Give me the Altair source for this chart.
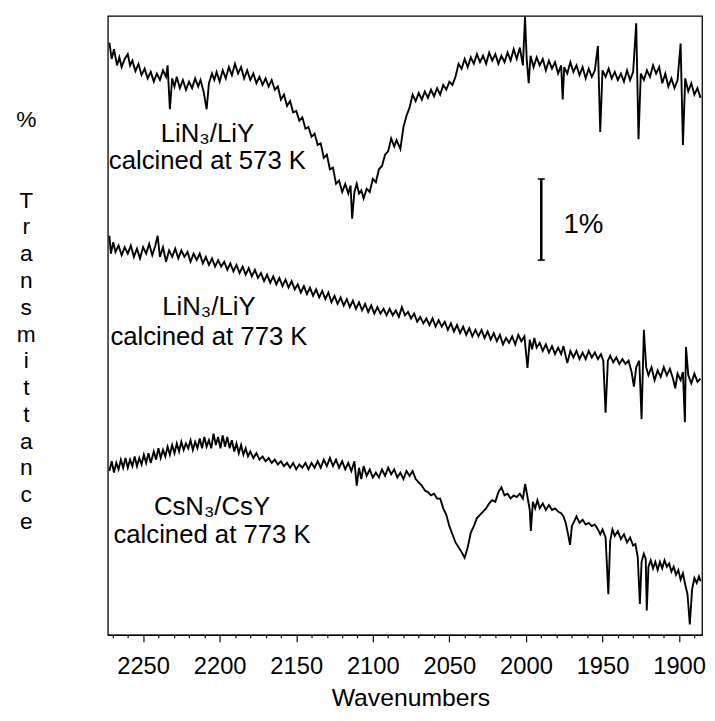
import altair as alt
import pandas as pd

# ---------------- data ----------------
# trace 1: LiN3/LiY calcined at 573 K  (wavenumber, offset %T)
t1_wn = [2272, 2270.5, 2269, 2267, 2265.5, 2264, 2262, 2260, 2258.5, 2257, 2255, 2253, 2251, 2249, 2247, 2245,
         2243, 2241, 2239, 2237, 2235, 2234, 2232.5, 2231, 2229.5, 2228, 2226, 2224, 2222, 2220, 2218, 2216,
         2214, 2212.5, 2210.5, 2208.5, 2207, 2205, 2203.5, 2202, 2200, 2198, 2196, 2194, 2192, 2190, 2188,
         2186, 2184, 2182, 2180, 2178, 2176, 2174, 2172, 2170, 2168, 2166, 2164, 2162, 2160, 2158, 2156,
         2154, 2152, 2150, 2148, 2146, 2144, 2142, 2140, 2138, 2136, 2134, 2132, 2130, 2128, 2126, 2124,
         2122, 2120, 2118, 2116, 2114.5, 2113.5, 2112, 2110.5, 2109, 2107.5, 2106, 2104, 2102, 2100, 2098,
         2096, 2094, 2092, 2090, 2088, 2086, 2084.5, 2082, 2080, 2078, 2076, 2074, 2072, 2070, 2068, 2066,
         2064, 2062, 2060, 2058, 2056, 2054, 2052, 2050, 2048, 2046, 2044, 2042, 2040, 2038, 2036, 2034,
         2032, 2030, 2028, 2026, 2024, 2022, 2020, 2018, 2016, 2014, 2012, 2010, 2008, 2006, 2004, 2002,
         2000.6, 1999.5, 1998.2, 1997, 1995, 1993, 1991, 1989, 1987, 1985, 1983, 1981, 1979, 1977, 1976,
         1975, 1973, 1971, 1969, 1967, 1965, 1963, 1961, 1959, 1957, 1955, 1953, 1951.5, 1950, 1948, 1946,
         1944, 1942, 1940, 1938, 1936, 1934, 1932, 1930, 1928, 1926.5, 1925, 1923, 1921, 1919, 1917, 1915,
         1913, 1911, 1909, 1907, 1905, 1903, 1901, 1899, 1897.5, 1896, 1894, 1892, 1890, 1888, 1886]
t1_val = [7.30, 7.10, 7.22, 7.02, 7.12, 7.00, 7.10, 7.16, 7.02, 7.08, 6.95, 7.04, 6.90, 6.98, 6.86, 6.94,
          6.82, 6.92, 6.84, 6.96, 6.88, 7.02, 6.48, 6.86, 6.76, 6.88, 6.74, 6.84, 6.72, 6.82, 6.74, 6.86,
          6.76, 6.84, 6.70, 6.48, 6.80, 6.92, 6.84, 6.94, 6.82, 6.96, 6.86, 7.00, 6.90, 7.04, 6.92,
          7.00, 6.86, 6.96, 6.84, 6.92, 6.80, 6.88, 6.78, 6.86, 6.76, 6.84, 6.72, 6.76, 6.60, 6.66, 6.52,
          6.58, 6.44, 6.46, 6.34, 6.38, 6.24, 6.26, 6.14, 6.18, 6.04, 6.06, 5.88, 5.92, 5.74, 5.76, 5.56,
          5.60, 5.46, 5.56, 5.44, 5.54, 5.13, 5.46, 5.56, 5.44, 5.48, 5.38, 5.50, 5.46, 5.62, 5.58,
          5.74, 5.78, 5.92, 5.96, 6.12, 6.02, 6.10, 5.99, 6.26, 6.40, 6.50, 6.66, 6.58, 6.68, 6.60, 6.70,
          6.62, 6.72, 6.64, 6.74, 6.66, 6.78, 6.72, 6.82, 6.78, 6.88, 7.04, 6.98, 7.10, 7.00, 7.12, 7.04,
          7.16, 7.06, 7.14, 7.04, 7.18, 7.08, 7.16, 7.04, 7.14, 7.06, 7.18, 7.08, 7.22, 7.10, 7.24, 7.02,
          7.62, 7.10, 6.80, 7.14, 7.00, 7.12, 7.02, 7.10, 6.96, 7.08, 6.98, 7.06, 6.92, 7.02, 6.60,
          7.00, 6.92, 7.06, 6.94, 7.02, 6.90, 7.00, 6.86, 6.98, 6.88, 6.96, 7.26, 6.20, 6.96, 6.88, 6.98,
          6.86, 6.94, 6.84, 6.92, 6.82, 6.96, 6.84, 6.94, 7.54, 6.11, 6.92, 6.84, 6.96, 6.88, 7.02, 6.92,
          7.00, 6.80, 6.92, 6.76, 6.86, 6.74, 6.84, 7.29, 6.04, 6.86, 6.70, 6.80, 6.66, 6.74, 6.62]

# trace 2: LiN3/LiY calcined at 773 K
t2_wn = [2272, 2271, 2269.5, 2268, 2266, 2264, 2262, 2260, 2258, 2256, 2254, 2252, 2250, 2248, 2246, 2244,
         2242, 2240.5, 2239, 2237, 2235, 2233, 2231, 2229, 2227, 2225, 2223, 2221, 2219, 2217, 2215, 2213,
         2211, 2209, 2207, 2205, 2203, 2201, 2199, 2197, 2195, 2193, 2191, 2189, 2187, 2185, 2183, 2181,
         2179, 2177, 2175, 2173, 2171, 2169, 2167, 2165, 2163, 2161, 2159, 2157, 2155, 2153, 2151, 2149,
         2147, 2145, 2143, 2141, 2139, 2137, 2135, 2133, 2131, 2129, 2127, 2125, 2123, 2121, 2119, 2117,
         2115, 2113, 2111, 2109, 2107, 2105, 2103, 2101, 2099, 2097, 2095, 2093, 2091, 2089, 2087, 2085,
         2083, 2081, 2079, 2077, 2075, 2073, 2071, 2069, 2067, 2065, 2063, 2061, 2059, 2057, 2055, 2053,
         2051, 2049, 2047, 2045, 2043, 2041, 2039, 2037, 2035, 2033, 2031, 2029, 2027, 2025, 2023, 2021,
         2019, 2017, 2015, 2013, 2011, 2009, 2007, 2005, 2003, 2001, 1999, 1997.5, 1996, 1994.5, 1993,
         1991, 1989, 1987, 1985, 1983, 1981, 1979, 1977, 1975.5, 1973, 1971, 1969, 1967, 1965, 1963, 1961,
         1959, 1957, 1955, 1953, 1951, 1949.5, 1948, 1946.5, 1945, 1943, 1941, 1939, 1937, 1935, 1933,
         1931, 1929.5, 1928, 1926, 1924.5, 1923, 1921.5, 1920, 1918, 1916, 1914, 1912, 1910, 1908, 1906,
         1904, 1902.5, 1901, 1899, 1897.5, 1896.2, 1895.5, 1894, 1892, 1890, 1888, 1886]
t2_val = [4.92, 4.70, 4.84, 4.72, 4.80, 4.68, 4.78, 4.70, 4.80, 4.66, 4.76, 4.64, 4.78, 4.70, 4.82, 4.68,
          4.80, 4.92, 4.66, 4.78, 4.60, 4.74, 4.66, 4.76, 4.64, 4.74, 4.66, 4.72, 4.60, 4.70, 4.62, 4.70,
          4.58, 4.66, 4.56, 4.64, 4.54, 4.62, 4.54, 4.60, 4.50, 4.58, 4.48, 4.56, 4.46, 4.54, 4.44, 4.52,
          4.42, 4.50, 4.40, 4.46, 4.36, 4.44, 4.34, 4.42, 4.32, 4.40, 4.30, 4.38, 4.28, 4.36, 4.26, 4.32,
          4.22, 4.30, 4.20, 4.28, 4.18, 4.26, 4.16, 4.24, 4.14, 4.22, 4.10, 4.18, 4.08, 4.16, 4.06, 4.14,
          4.04, 4.12, 4.02, 4.10, 4.00, 4.08, 3.98, 4.06, 3.96, 4.04, 3.96, 4.02, 3.94, 4.02, 3.94, 4.00,
          3.92, 4.04, 3.94, 3.98, 3.90, 3.96, 3.86, 3.92, 3.84, 3.90, 3.82, 3.90, 3.80, 3.88, 3.80, 3.86,
          3.76, 3.84, 3.74, 3.82, 3.72, 3.80, 3.70, 3.78, 3.68, 3.76, 3.68, 3.76, 3.66, 3.74, 3.64, 3.72,
          3.62, 3.70, 3.58, 3.66, 3.60, 3.68, 3.58, 3.70, 3.62, 3.68, 3.29, 3.64, 3.52, 3.66, 3.54,
          3.60, 3.50, 3.58, 3.48, 3.56, 3.46, 3.54, 3.46, 3.56, 3.35, 3.50, 3.42, 3.50, 3.40, 3.48, 3.40,
          3.50, 3.42, 3.48, 3.40, 3.46, 3.38, 2.74, 3.38, 3.44, 3.36, 3.42, 3.34, 3.40, 3.34, 3.38,
          3.24, 3.06, 3.30, 3.38, 2.66, 3.76, 3.30, 3.20, 3.30, 3.14, 3.26, 3.18, 3.30, 3.20, 3.28,
          3.16, 3.04, 3.22, 3.14, 3.24, 2.62, 3.55, 3.20, 3.10, 3.22, 3.12, 3.16]

# trace 3: CsN3/CsY calcined at 773 K
t3_wn = [2272, 2270.5, 2269, 2267.5, 2266, 2264.5, 2263, 2261.5, 2260, 2258.5, 2257, 2255.5, 2254, 2252.5,
         2251, 2249.5, 2248, 2246.5, 2245, 2243, 2241.5, 2240, 2238.5, 2237, 2235.5, 2234, 2232.5, 2231,
         2229.5, 2228, 2226.5, 2225, 2223.5, 2222, 2220.5, 2219, 2217.5, 2216, 2214.5, 2213, 2211.5, 2210,
         2208.5, 2207, 2205.5, 2204, 2202.5, 2201, 2199.5, 2198, 2196.5, 2195, 2193.5, 2192, 2190.5, 2189,
         2187.5, 2186, 2184.5, 2183, 2181.5, 2180, 2178, 2176, 2174, 2172, 2170, 2168, 2166, 2164, 2162,
         2160, 2158, 2156, 2154, 2152, 2150, 2148, 2146, 2144, 2142, 2140, 2138, 2136, 2134, 2132, 2130,
         2128, 2126, 2124, 2122, 2120, 2118, 2116, 2114, 2112, 2110.5, 2109, 2107.5, 2106, 2104, 2102, 2100,
         2098, 2096, 2094, 2092, 2090, 2088, 2086, 2084, 2082, 2080, 2078, 2076, 2074, 2072, 2070, 2068,
         2066, 2064, 2062, 2060, 2058, 2056, 2054, 2052, 2050, 2048, 2046, 2044, 2042, 2040, 2038, 2036,
         2034, 2032, 2030, 2028, 2026, 2024, 2022, 2020, 2018, 2016, 2014, 2012, 2010, 2008, 2006, 2004,
         2002, 2000.5, 1999, 1997.5, 1996.8, 1995.5, 1994, 1992.5, 1991, 1989, 1987, 1985, 1983, 1981, 1979,
         1977, 1975.5, 1974, 1972.5, 1971.2, 1970, 1968.5, 1967, 1965, 1963, 1961, 1959, 1957, 1955, 1953,
         1951.5, 1950, 1948, 1946.2, 1945, 1943.5, 1942, 1940, 1938, 1936, 1934, 1932, 1930, 1928.5, 1927,
         1925.6, 1924.5, 1923, 1921.8, 1921.1, 1920, 1918.5, 1917, 1915.5, 1914, 1912.5, 1911, 1909.5, 1908,
         1906.5, 1905, 1903.5, 1902, 1900.5, 1899, 1897.5, 1896, 1894.5, 1893, 1891.5, 1890, 1888.5, 1887, 1886]
t3_val = [2.02, 2.14, 2.00, 2.12, 2.04, 2.16, 2.06, 2.18, 2.06, 2.16, 2.08, 2.20, 2.08, 2.18,
          2.10, 2.22, 2.12, 2.24, 2.12, 2.26, 2.16, 2.30, 2.18, 2.28, 2.20, 2.32, 2.22, 2.34,
          2.24, 2.36, 2.26, 2.38, 2.28, 2.36, 2.30, 2.40, 2.28, 2.38, 2.30, 2.42, 2.30, 2.44,
          2.32, 2.40, 2.30, 2.48, 2.34, 2.44, 2.30, 2.46, 2.32, 2.44, 2.30, 2.40, 2.26, 2.36,
          2.24, 2.34, 2.22, 2.30, 2.20, 2.26, 2.18, 2.24, 2.16, 2.20, 2.14, 2.18, 2.12, 2.16, 2.10,
          2.14, 2.08, 2.12, 2.06, 2.12, 2.04, 2.10, 2.06, 2.12, 2.04, 2.12, 2.06, 2.14, 2.06, 2.16, 2.08,
          2.18, 2.08, 2.16, 2.06, 2.14, 2.04, 2.12, 2.02, 2.14, 1.84, 2.06, 1.92, 2.08, 1.96, 2.04, 1.94,
          2.00, 1.94, 2.04, 1.96, 2.06, 1.98, 2.04, 1.94, 2.00, 1.92, 2.02, 1.96, 2.02, 1.92, 1.88, 1.84,
          1.78, 1.76, 1.72, 1.74, 1.68, 1.68, 1.56, 1.48, 1.34, 1.24, 1.14, 1.08, 1.02, 0.95, 1.08, 1.26,
          1.34, 1.44, 1.48, 1.52, 1.56, 1.62, 1.66, 1.64, 1.76, 1.82, 1.72, 1.74, 1.68, 1.72, 1.70, 1.74,
          1.68, 1.86, 1.70, 1.54, 1.28, 1.64, 1.56, 1.66, 1.56, 1.62, 1.54, 1.60, 1.54, 1.56, 1.52,
          1.50, 1.46, 1.38, 1.24, 1.11, 1.34, 1.40, 1.46, 1.38, 1.42, 1.36, 1.38, 1.34, 1.36, 1.30,
          1.24, 1.30, 1.20, 0.50, 1.16, 1.30, 1.22, 1.28, 1.18, 1.24, 1.14, 1.20, 1.10, 1.12, 0.96,
          0.38, 0.90, 1.00, 0.94, 0.30, 0.84, 0.92, 0.82, 0.90, 0.80, 0.90, 0.82, 0.92, 0.84,
          0.88, 0.78, 0.84, 0.74, 0.80, 0.68, 0.76, 0.62, 0.50, 0.13, 0.56, 0.70, 0.64, 0.72, 0.66]

trace_names = ["LiN3/LiY 573 K", "LiN3/LiY 773 K", "CsN3/CsY 773 K"]

# sample labels
label_wn = [2208, 2208, 2207, 2207, 2205, 2205]
label_v = [6.07, 5.74, 3.94, 3.57, 1.48, 1.13]
label_text = ["LiN\u2083/LiY", "calcined at 573 K",
              "LiN\u2083/LiY", "calcined at 773 K",
              "CsN\u2083/CsY", "calcined at 773 K"]

# 1 % scale bar
bar_wn = 1990
bar_lo, bar_hi = 4.62, 5.62
bar_cap_half = 2.3
bar_label = "1%"
bar_label_wn = 1975.5
bar_label_v = 5.05

# axes
x_domain = [2273, 1885]
y_domain = [0, 7.63]
x_tick_values = [1890, 1900, 1910, 1920, 1930, 1940, 1950, 1960, 1970, 1980, 1990, 2000, 2010, 2020,
                 2030, 2040, 2050, 2060, 2070, 2080, 2090, 2100, 2110, 2120, 2130, 2140, 2150, 2160,
                 2170, 2180, 2190, 2200, 2210, 2220, 2230, 2240, 2250, 2260, 2270]
BLANK = "\u2800"   # blank glyph keeps an empty line in the stacked title
y_title_letters = ["%", BLANK, BLANK, "T", "r", "a", "n", "s", "m", "i", "t", "t", "a", "n", "c", "e"]
x_title = "Wavenumbers"

# ---------------- build tables ----------------
rows = []
for name, wns, vals in zip(trace_names, [t1_wn, t2_wn, t3_wn], [t1_val, t2_val, t3_val]):
    for i, (w, v) in enumerate(zip(wns, vals)):
        rows.append({"trace": name, "i": i, "wn": w, "v": v})
spectra = pd.DataFrame(rows)

labels = pd.DataFrame({"wn": label_wn, "v": label_v, "text": label_text})
bar_df = pd.DataFrame({"wn": [bar_wn], "v": [bar_lo], "v2": [bar_hi]})
caps_df = pd.DataFrame({"wn": [bar_wn - bar_cap_half] * 2, "wn2": [bar_wn + bar_cap_half] * 2,
                        "v": [bar_lo, bar_hi]})
bar_text_df = pd.DataFrame({"wn": [bar_label_wn], "v": [bar_label_v], "text": [bar_label]})

FONT = "Liberation Sans"

x_scale = alt.Scale(domain=x_domain, nice=False, zero=False)
y_scale = alt.Scale(domain=y_domain, nice=False, zero=False)

x_axis = alt.Axis(
    values=x_tick_values, format="d",
    labelExpr="datum.value % 50 === 0 ? datum.label : ''",
    tickSize={"condition": {"test": "datum.value % 50 === 0", "value": 7}, "value": 3},
    labelOverlap=False, labelFlush=False, grid=False,
    labelFont=FONT, labelFontSize=24, labelColor="black", labelPadding=13,
    tickColor="black", tickWidth=1.2, domainColor="black", domainWidth=1.3,
    title=x_title, titleFont=FONT, titleFontSize=25, titleFontWeight="normal",
    titleColor="black", titleBaseline="alphabetic", titleY=71, titleX=306, titleAlign="center",
)
y_axis = alt.Axis(
    labels=False, ticks=False, domain=False, grid=False,
    title=y_title_letters, titleAngle=0, titleFont=FONT, titleFontSize=23,
    titleFontWeight="normal", titleColor="black", titleLineHeight=27.1,
    titleBaseline="alphabetic", titleAlign="center", titleX=-83, titleY=112,
)

X = alt.X("wn:Q", scale=x_scale, axis=x_axis)
Y = alt.Y("v:Q", scale=y_scale, axis=y_axis)

lines = alt.Chart(spectra).mark_line(color="black", strokeWidth=1.9, clip=True,
                                     strokeJoin="miter").encode(
    x=X, y=Y, detail="trace:N", order="i:Q")

text = alt.Chart(labels).mark_text(font=FONT, fontSize=26, color="black", align="center",
                                   baseline="alphabetic").encode(x=X, y=Y, text="text:N")

bar = alt.Chart(bar_df).mark_rule(color="black", strokeWidth=2.6).encode(x=X, y=Y, y2="v2:Q")
caps = alt.Chart(caps_df).mark_rule(color="black", strokeWidth=1.6).encode(x=X, x2="wn2:Q", y=Y)
bar_text = alt.Chart(bar_text_df).mark_text(font=FONT, fontSize=28, color="black", align="left",
                                            baseline="middle").encode(x=X, y=Y, text="text:N")

chart = alt.layer(lines, text, bar, caps, bar_text).properties(
    width=601, height=626,
    autosize="none",
    padding={"left": 101, "top": 4, "right": 5, "bottom": 75},
    background="white",
).configure_view(stroke="black", strokeWidth=1.3)

chart.save("out.html", embed_options={"renderer": "svg", "actions": False})
